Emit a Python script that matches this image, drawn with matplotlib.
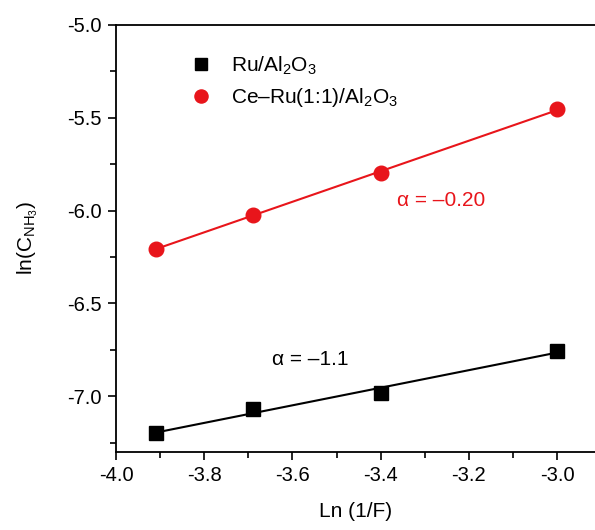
import numpy as np
import matplotlib
matplotlib.use('Agg')
import matplotlib.pyplot as plt
from matplotlib.ticker import MultipleLocator

plt.rcParams['font.family'] = ['Liberation Sans', 'DejaVu Sans']
plt.rcParams['mathtext.fontset'] = 'custom'
plt.rcParams['mathtext.rm'] = 'Liberation Sans'
plt.rcParams['mathtext.it'] = 'Liberation Sans'

ln_inv_F = np.array([-3.91, -3.69, -3.40, -3.00])
ln_c_ru = np.array([-7.20, -7.07, -6.98, -6.755])
ln_c_ceru = np.array([-6.205, -6.025, -5.795, -5.455])

labels = ['Ru/Al$_2$O$_3$', 'Ce\u2013Ru(1:1)/Al$_2$O$_3$']
alpha_text = ['\u03b1 = \u20131.1', '\u03b1 = \u20130.20']
red = '#e8151b'

fig = plt.figure(figsize=(5.95, 5.30), dpi=100)
ax = fig.add_axes([116/595, 78/530, 1 - 116/595, 427/530])

# linear fits through each series
for y, c, m, lab in [(ln_c_ru, 'black', 's', labels[0]),
                     (ln_c_ceru, red, 'o', labels[1])]:
    k, b = np.polyfit(ln_inv_F, y, 1)
    xf = np.array([ln_inv_F[0], ln_inv_F[-1]])
    ax.plot(xf, k * xf + b, color=c, lw=1.5, zorder=2)
    ax.plot(ln_inv_F, y, ls='none', marker=m, color=c, ms=10.5 if m == 'o' else 9.5,
            label=lab, zorder=3)

ax.text(-3.646, -6.80, alpha_text[0], fontsize=15, color='black', va='center')
ax.text(-3.363, -5.945, alpha_text[1], fontsize=15, color=red, va='center')

ax.set_xlim(-4.0, -2.914)
ax.set_ylim(-7.30, -5.0)
ax.xaxis.set_major_locator(MultipleLocator(0.2))
ax.xaxis.set_minor_locator(MultipleLocator(0.1))
ax.yaxis.set_major_locator(MultipleLocator(0.5))
ax.yaxis.set_minor_locator(MultipleLocator(0.25))
ax.xaxis.set_major_formatter(lambda v, p: f'{v:.1f}')
ax.yaxis.set_major_formatter(lambda v, p: f'{v:.1f}')
ax.tick_params(which='both', direction='out', width=1.2, labelsize=14.5)
ax.tick_params(which='major', length=6, pad=4)
ax.tick_params(which='minor', length=4)
ax.spines['right'].set_visible(False)
for s in ['left', 'bottom', 'top']:
    ax.spines[s].set_linewidth(1.3)

ax.set_xlabel('Ln (1/F)', fontsize=15, labelpad=12)
ax.set_ylabel('ln(C$_{\\mathregular{NH_3}}$)', fontsize=15, labelpad=20)

ax.legend(loc='upper left', bbox_to_anchor=(0.112, 0.975), frameon=False,
          fontsize=15, handletextpad=0.85, labelspacing=0.45, handlelength=1.2,
          markerscale=0.9)

fig.savefig('out.png', dpi=100)
